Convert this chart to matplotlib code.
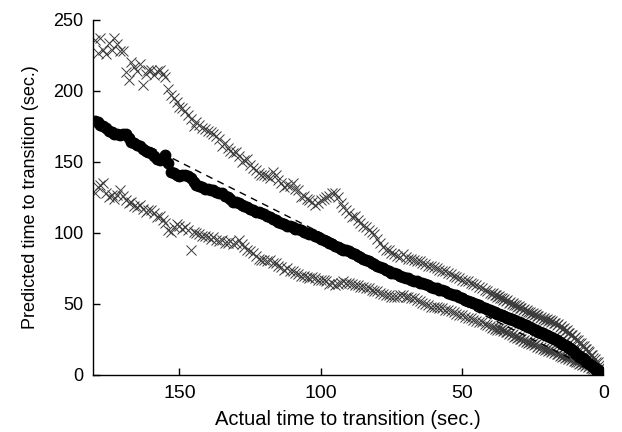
import numpy as np
import matplotlib
matplotlib.use("Agg")
import matplotlib.pyplot as plt

plt.rcParams['font.family'] = ['Liberation Sans', 'DejaVu Sans']

# actual time to transition (sec.): 1 s steps from 180 to 41, 0.5 s steps from 40 to 0
actual = list(np.arange(180, 40, -1.0)) + list(np.arange(40, -0.25, -0.5))

predicted_mean = [
    179, 178, 176, 175, 174, 172, 171, 170, 170, 169,
    170, 170, 167, 164, 163, 162, 161, 159, 158, 157,
    156, 154, 152, 151, 153, 155, 149, 143, 142, 141,
    140, 141, 141, 140, 139, 136, 134, 133, 132, 131,
    131, 130, 130, 129, 128, 128, 126, 125, 124, 122,
    122, 121, 120, 119, 118, 117, 116, 115, 115, 114,
    113, 112, 111, 110, 109, 108, 107, 106, 105, 105,
    104, 103, 103, 102, 101, 100, 99, 99, 98, 97,
    96, 95, 94, 93, 92, 91, 90, 89, 88, 88,
    87, 86, 85, 84, 83, 82, 81, 80, 79, 78,
    77, 76, 75, 74, 73, 72, 71.5, 71, 70, 69,
    68.5, 68, 67, 66.5, 66, 65, 64.5, 64, 63, 62,
    61.5, 61, 60, 59.5, 59, 58, 57, 56.5, 56, 55,
    54, 53, 52, 51.5, 51, 50, 49, 48, 47.5, 46.5,
    45.5, 45, 44.5, 44, 43.6, 43.2, 42.8, 42.4, 42, 41.6,
    41.2, 40.8, 40.4, 40, 39.6, 39.2, 38.8, 38.4, 38, 37.6,
    37.2, 36.8, 36.4, 36, 35.5, 35, 34.5, 34, 33.5, 33,
    32.5, 32, 31.5, 31, 30.5, 30, 29.6, 29.2, 28.8, 28.4,
    28, 27.5, 27, 26.5, 26, 25.5, 25, 24.4, 23.8, 23.2,
    22.6, 22, 21.4, 20.8, 20.2, 19.6, 19, 18.2, 17.4, 16.6,
    15.8, 15, 14.2, 13.4, 12.6, 11.8, 11, 10.2, 9.4, 8.6,
    7.8, 7, 6.2, 5.4, 4.6, 3.8, 3.2, 2.6, 2, 1.6,
    1.2,
]

predicted_upper = [
    236, 227, 237, 229, 226, 234, 229, 237, 233, 228,
    228, 213, 208, 220, 217, 214, 219, 204, 212, 215,
    215, 211, 214, 215, 212, 210, 201, 197, 195, 192,
    189, 188, 186, 183, 180, 175, 178, 176, 174, 173,
    172, 171, 170, 168, 166, 161, 163, 160, 158, 156,
    157, 154, 150, 151, 152, 148, 146, 144, 142, 141,
    141, 140, 139, 143, 141, 137, 135, 132, 134, 133,
    135, 131, 130, 125, 126, 124, 123, 122, 120, 121,
    123, 124, 125, 126, 128, 128, 125, 121, 118, 116,
    114, 111, 112, 109, 107, 105, 104, 102, 101, 99,
    96, 93, 90, 88, 88, 86, 85, 84, 83, 85,
    83, 82, 82, 81, 80, 80, 79, 78, 77, 77,
    76, 75, 74, 73, 73, 72, 71, 70, 69, 68,
    67, 66, 66, 65, 64, 63, 62, 61, 60, 59,
    58, 57, 57.5, 56, 56.5, 55, 55.5, 54, 54.5, 53,
    53.5, 52, 52.5, 51, 51.5, 50, 50.5, 49, 49.5, 48,
    48.5, 47, 47.5, 46, 46.5, 45, 45.5, 44, 44.5, 43,
    43.5, 42, 42.8, 41.4, 41.8, 40.4, 41, 39.6, 40.2, 38.8,
    39.4, 38, 38.6, 37.2, 37.8, 36.4, 36.8, 35.2, 35.8, 34,
    34.6, 32.6, 33, 31.2, 31.6, 29.6, 29.8, 27.8, 28, 26.2,
    26.4, 24.6, 24.4, 22.6, 22.4, 20.6, 20.4, 18.6, 18.2, 16.6,
    16, 14.2, 13.8, 11.8, 11.4, 9.4, 8.8, 6.8, 6, 4.2,
    2.5,
]

predicted_lower = [
    128, 132, 134, 135, 128, 125, 127, 124, 127, 130,
    126, 123, 121, 122, 119, 118, 120, 117, 115, 116,
    116, 114, 111, 112, 109, 107, 102, 101, 104, 106,
    105, 103, 104, 102, 88, 101, 100, 99, 98, 98,
    97, 96, 97, 95, 94, 95, 93, 93, 94, 92,
    93, 95, 92, 90, 88, 87, 86, 84, 82, 81,
    81, 80, 81, 79, 79, 77, 76, 74, 75, 73,
    73, 72, 71, 70, 70, 69, 68, 69, 68, 67,
    67, 67, 66, 64, 65, 63, 64, 65, 66, 65,
    65, 64, 63, 63, 62, 62, 61, 61, 60, 59,
    59, 58, 57, 56, 56, 55, 55, 55, 56, 56,
    55, 55, 54, 54, 53, 52, 51, 50, 49, 48,
    48, 48, 47, 47, 46, 46, 45, 44, 43, 42,
    42, 41, 40, 40, 39, 38, 37, 37, 36, 35,
    34.5, 33.4, 33.9, 32.6, 33.2, 32, 32.8, 31.6, 32.3, 31,
    31.4, 30, 30.6, 29, 29.6, 28, 28.6, 27, 27.6, 26,
    26.5, 25, 25.6, 24, 24.6, 23.4, 24, 22.6, 23.2, 21.8,
    22.4, 21, 21.6, 20, 20.6, 19.2, 19.8, 18.4, 19, 17.6,
    18.2, 17, 17.6, 16.2, 16.8, 15.4, 16, 14.6, 15, 13.6,
    14, 12.8, 13.4, 12, 12.6, 11.2, 11.8, 10.4, 11, 9.6,
    10, 8.8, 9.4, 8, 8.6, 7.2, 7.8, 6.4, 7, 5.6,
    6, 4.8, 5.2, 4, 4.4, 3.2, 3.6, 2.4, 2.8, 1.8,
    1.5,
]

diagonal = [0, 180]

fig = plt.figure(figsize=(6.22, 4.32), dpi=100)
ax = fig.add_axes([0.150, 0.132, 0.820, 0.822])

ax.plot(actual, predicted_upper, linestyle='none', marker='x', markersize=7.5,
        markeredgewidth=0.7, color='#3a3a3a', zorder=2)
ax.plot(actual, predicted_lower, linestyle='none', marker='x', markersize=7.5,
        markeredgewidth=0.7, color='#3a3a3a', zorder=2)
ax.plot(diagonal, diagonal, linestyle=(0, (5, 4)), color='black', linewidth=1.0, zorder=3)
ax.plot(actual, predicted_mean, linestyle='none', marker='o', markersize=7.5,
        color='black', zorder=4)

ax.set_xlim(180.5, 0)
ax.set_ylim(0, 250)
ax.set_xticks([150, 100, 50, 0])
ax.set_yticks([0, 50, 100, 150, 200, 250])

for side in ('top', 'right'):
    ax.spines[side].set_visible(False)
for side in ('left', 'bottom'):
    ax.spines[side].set_linewidth(1.0)

ax.tick_params(direction='in', length=5, width=1.0)
ax.tick_params(axis='x', pad=7, labelsize=14)
ax.tick_params(axis='y', pad=7, labelsize=13)

ax.set_xlabel('Actual time to transition (sec.)', fontsize=14.5, labelpad=6)
ax.set_ylabel('Predicted time to transition (sec.)', fontsize=13, labelpad=10)

fig.savefig('out.png', dpi=100)
